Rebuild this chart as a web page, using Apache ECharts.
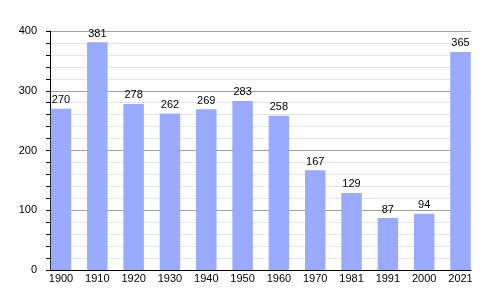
<!DOCTYPE html>
<html><head><meta charset="utf-8">
<script src="https://cdn.jsdelivr.net/npm/echarts@6/dist/echarts.min.js"></script>
<style>html,body{margin:0;padding:0;background:#fff}#c{width:500px;height:300px}</style>
</head><body><div id="c"></div>
<script>
var categories = ['1900','1910','1920','1930','1940','1950','1960','1970','1981','1991','2000','2021'];
var population = [270, 381, 278, 262, 269, 283, 258, 167, 129, 87, 94, 365];
var yTicks = [0, 100, 200, 300, 400];

var font = 'Liberation Sans, Arial, sans-serif';
var chart = echarts.init(document.getElementById('c'), null, {renderer: 'canvas'});
chart.setOption({
  animation: false,
  backgroundColor: '#fff',
  grid: [
    {left: 50, right: 29, top: 31, bottom: 30},
    {left: 61, right: 39.5, top: 31, bottom: 30}
  ],
  xAxis: [
    {gridIndex: 0, type: 'category', data: categories, boundaryGap: false,
     axisLine: {show: true, lineStyle: {color: '#000', width: 1}},
     axisTick: {show: false}, axisLabel: {show: false}, splitLine: {show: false}},
    {gridIndex: 1, type: 'category', data: categories, boundaryGap: false,
     axisLine: {show: false}, axisTick: {show: false},
     axisLabel: {show: true, color: '#000', fontFamily: font, fontSize: 11, margin: 3, interval: 0},
     splitLine: {show: false}}
  ],
  yAxis: [
    {gridIndex: 0, type: 'value', min: yTicks[0], max: yTicks[yTicks.length-1], interval: 100,
     axisLine: {show: true, lineStyle: {color: '#000', width: 1}},
     axisTick: {show: true, length: 4, lineStyle: {color: '#000'}},
     minorTick: {show: true, splitNumber: 5, length: 4, lineStyle: {color: '#000'}},
     axisLabel: {color: '#000', fontFamily: font, fontSize: 11, margin: 13},
     splitLine: {show: true, lineStyle: {color: '#a0a0a0', width: 1}},
     minorSplitLine: {show: true, lineStyle: {color: '#e4e4e4', width: 1}}},
    {gridIndex: 1, type: 'value', min: yTicks[0], max: yTicks[yTicks.length-1], interval: 100, show: false,
     splitLine: {show: false}}
  ],
  series: [{
    type: 'bar', xAxisIndex: 1, yAxisIndex: 1, data: population, barWidth: 20.5,
    itemStyle: {color: '#99aaff'},
    label: {show: true, position: 'top', distance: 3, color: '#000', fontFamily: font, fontSize: 11}
  }]
});
</script></body></html>
